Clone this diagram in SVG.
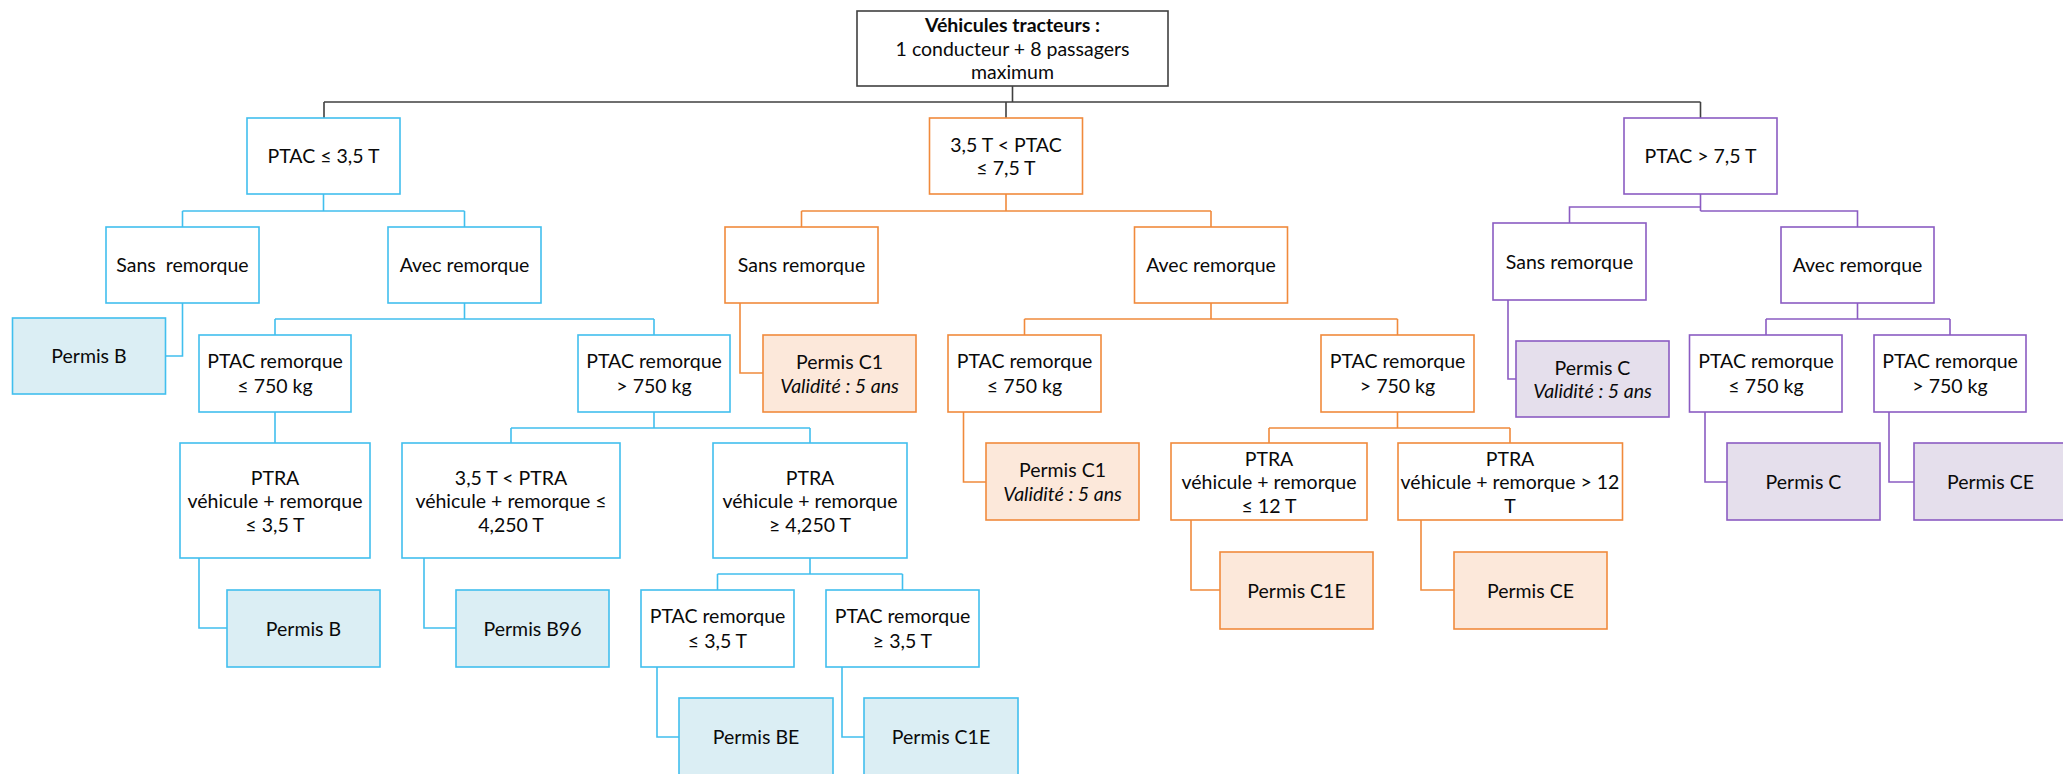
<svg xmlns="http://www.w3.org/2000/svg" width="2063" height="774" viewBox="0 0 2063 774">
<style>
rect{stroke-width:1.6}
.nk{fill:#fff;stroke:#404040}
.nb{fill:#fff;stroke:#41BFEE}
.fb{fill:#DBEEF4;stroke:#41BFEE}
.no{fill:#fff;stroke:#F08A3C}
.fo{fill:#FCE8DA;stroke:#F08A3C}
.np{fill:#fff;stroke:#8B5CC2}
.fp{fill:#E5DFEC;stroke:#8B5CC2}
path{fill:none;stroke-width:1.6}
.ck{stroke:#404040}
.cb{stroke:#41BFEE}
.co{stroke:#F08A3C}
.cp{stroke:#8B5CC2}
text{font-family:Lato,"Open Sans","Liberation Sans",sans-serif;font-size:19.5px;fill:#0a0a0a;text-anchor:middle;white-space:pre}
.bd{font-weight:bold}
.it{font-style:italic}
</style>
<g id="connectors">
<path class="ck" d="M1012.5 86V102M324 102H1700.5M324 102V118M1006 102V118M1700.5 102V118"/>
<path class="cb" d="M323.5 194V211M182.5 211H464.5M182.5 211V227M464.5 211V227M182.5 303V356H166M464.5 303V319M275 319H654M275 319V335M654 319V335M275 412V443M654 412V428M511 428H810M511 428V443M810 428V443M199 558V628H227M424 558V628H456M810 558V574M717.5 574H902.5M717.5 574V590M902.5 574V590M657 667V737H679M842 667V737H864"/>
<path class="co" d="M1006 194V211M801.5 211H1211M801.5 211V227M1211 211V227M740 303V373H763M1211 303V319M1024.5 319H1397.5M1024.5 319V335M1397.5 319V335M963.5 412V482H986M1397.5 412V428M1269 428H1510M1269 428V443M1510 428V443M1191 520V590H1220M1421 520V590H1454"/>
<path class="cp" d="M1700.5 194V211M1700.5 207H1569.5V223M1700.5 211H1857.5V227M1508 300V379H1516M1857.5 303V319M1766 319H1950M1766 319V335M1950 319V335M1705 412V482H1727M1889 412V482H1914"/>
</g>
<g id="root"><rect class="nk" x="857" y="11" width="311" height="75"/><text x="1012.5" y="32" class="bd">Véhicules tracteurs :</text><text x="1012.5" y="56">1 conducteur + 8 passagers</text><text x="1012.5" y="79">maximum</text></g>

<g id="b1"><rect class="nb" x="247" y="118" width="153" height="76"/><text x="323.5" y="163">PTAC ≤ 3,5 T</text></g>
<g id="b2a"><rect class="nb" x="106" y="227" width="153" height="76"/><text x="182.5" y="272">Sans  remorque</text></g>
<g id="b2b"><rect class="nb" x="388" y="227" width="153" height="76"/><text x="464.5" y="272">Avec remorque</text></g>
<g id="bP1"><rect class="fb" x="12.5" y="318" width="153" height="76"/><text x="89" y="363">Permis B</text></g>
<g id="b3a"><rect class="nb" x="199" y="335" width="152" height="77"/><text x="275" y="368">PTAC remorque</text><text x="275" y="393">≤ 750 kg</text></g>
<g id="b3b"><rect class="nb" x="578" y="335" width="152" height="77"/><text x="654" y="368">PTAC remorque</text><text x="654" y="393">&gt; 750 kg</text></g>
<g id="b4a"><rect class="nb" x="180" y="443" width="190" height="115"/><text x="275" y="485">PTRA</text><text x="275" y="508">véhicule + remorque</text><text x="275" y="532">≤ 3,5 T</text></g>
<g id="b4b"><rect class="nb" x="402" y="443" width="218" height="115"/><text x="511" y="485">3,5 T &lt; PTRA</text><text x="511" y="508">véhicule + remorque ≤</text><text x="511" y="532">4,250 T</text></g>
<g id="b4c"><rect class="nb" x="713" y="443" width="194" height="115"/><text x="810" y="485">PTRA</text><text x="810" y="508">véhicule + remorque</text><text x="810" y="532">≥ 4,250 T</text></g>
<g id="bP2"><rect class="fb" x="227" y="590" width="153" height="77"/><text x="303.5" y="635.5">Permis B</text></g>
<g id="bP3"><rect class="fb" x="456" y="590" width="153" height="77"/><text x="532.5" y="635.5">Permis B96</text></g>
<g id="b5a"><rect class="nb" x="641" y="590" width="153" height="77"/><text x="717.5" y="623">PTAC remorque</text><text x="717.5" y="648">≤ 3,5 T</text></g>
<g id="b5b"><rect class="nb" x="826" y="590" width="153" height="77"/><text x="902.5" y="623">PTAC remorque</text><text x="902.5" y="648">≥ 3,5 T</text></g>
<g id="bP4"><rect class="fb" x="679" y="698" width="154" height="80"/><text x="756" y="744">Permis BE</text></g>
<g id="bP5"><rect class="fb" x="864" y="698" width="154" height="80"/><text x="941" y="744">Permis C1E</text></g>

<g id="o1"><rect class="no" x="929.5" y="118" width="153" height="76"/><text x="1006" y="152">3,5 T &lt; PTAC</text><text x="1006" y="175">≤ 7,5 T</text></g>
<g id="o2a"><rect class="no" x="725" y="227" width="153" height="76"/><text x="801.5" y="272">Sans remorque</text></g>
<g id="o2b"><rect class="no" x="1134.5" y="227" width="153" height="76"/><text x="1211" y="272">Avec remorque</text></g>
<g id="oP1"><rect class="fo" x="763" y="335" width="153" height="77"/><text x="839.5" y="369">Permis C1</text><text x="839.5" y="393" class="it">Validité : 5 ans</text></g>
<g id="o3a"><rect class="no" x="948" y="335" width="153" height="77"/><text x="1024.5" y="368">PTAC remorque</text><text x="1024.5" y="393">≤ 750 kg</text></g>
<g id="o3b"><rect class="no" x="1321" y="335" width="153" height="77"/><text x="1397.5" y="368">PTAC remorque</text><text x="1397.5" y="393">&gt; 750 kg</text></g>
<g id="oP2"><rect class="fo" x="986" y="443" width="153" height="77"/><text x="1062.5" y="477">Permis C1</text><text x="1062.5" y="501" class="it">Validité : 5 ans</text></g>
<g id="o4a"><rect class="no" x="1171" y="443" width="196" height="77"/><text x="1269" y="466">PTRA</text><text x="1269" y="489">véhicule + remorque</text><text x="1269" y="513">≤ 12 T</text></g>
<g id="o4b"><rect class="no" x="1398" y="443" width="224.5" height="77"/><text x="1510" y="466">PTRA</text><text x="1510" y="489">véhicule + remorque &gt; 12</text><text x="1510" y="513">T</text></g>
<g id="oP3"><rect class="fo" x="1220" y="552" width="153" height="77"/><text x="1296.5" y="597.5">Permis C1E</text></g>
<g id="oP4"><rect class="fo" x="1454" y="552" width="153" height="77"/><text x="1530.5" y="597.5">Permis CE</text></g>

<g id="p1"><rect class="np" x="1624" y="118" width="153" height="76"/><text x="1700.5" y="163">PTAC &gt; 7,5 T</text></g>
<g id="p2a"><rect class="np" x="1493" y="223" width="153" height="77"/><text x="1569.5" y="269">Sans remorque</text></g>
<g id="p2b"><rect class="np" x="1781" y="227" width="153" height="76"/><text x="1857.5" y="272">Avec remorque</text></g>
<g id="pP1"><rect class="fp" x="1516" y="341" width="153" height="76"/><text x="1592.5" y="375">Permis C</text><text x="1592.5" y="398" class="it">Validité : 5 ans</text></g>
<g id="p3a"><rect class="np" x="1689.5" y="335" width="152.5" height="77"/><text x="1766" y="368">PTAC remorque</text><text x="1766" y="393">≤ 750 kg</text></g>
<g id="p3b"><rect class="np" x="1874" y="335" width="152" height="77"/><text x="1950" y="368">PTAC remorque</text><text x="1950" y="393">&gt; 750 kg</text></g>
<g id="pP2"><rect class="fp" x="1727" y="443" width="153" height="77"/><text x="1803.5" y="489">Permis C</text></g>
<g id="pP3"><rect class="fp" x="1914" y="443" width="153" height="77"/><text x="1990.5" y="489">Permis CE</text></g>
</svg>
